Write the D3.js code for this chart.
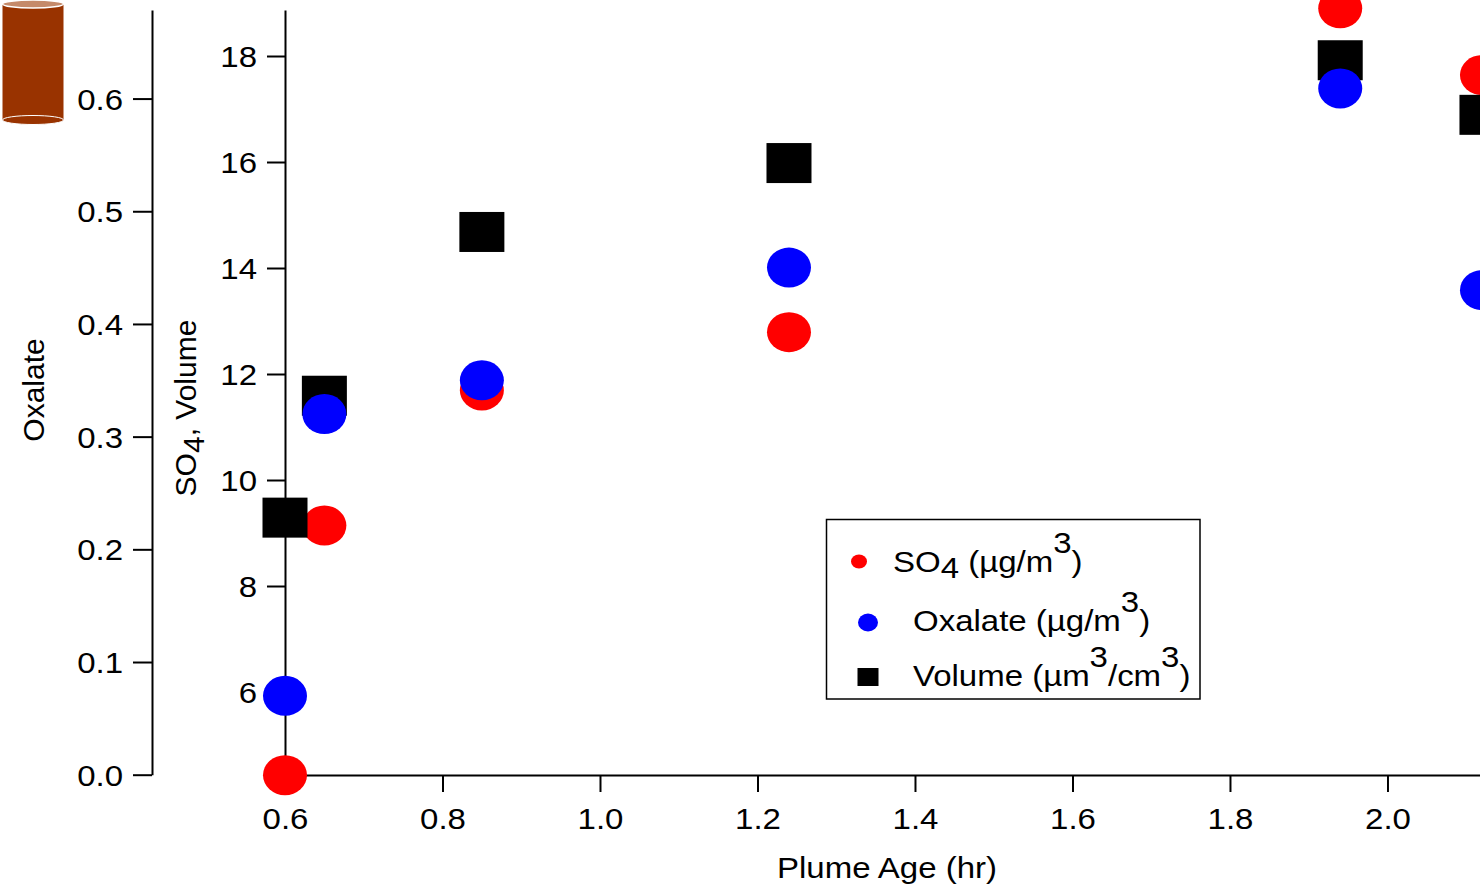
<!DOCTYPE html>
<html>
<head>
<meta charset="utf-8">
<script src="https://cdn.jsdelivr.net/npm/d3@7"></script>
<style>
  body { margin: 0; background: #fff; }
  text { font-family: "Liberation Sans", Arial, sans-serif; fill: #000; }
</style>
</head>
<body>
<div class="chart"></div>
<script>
// plume age (hr)
const plumeAge = [0.6, 0.65, 0.85, 1.24, 1.94, 2.12];
const so4 = [4.43, 9.14, 11.69, 12.79, 18.9, 17.64];
const oxalate = [0.07, 0.32, 0.35, 0.45, 0.609, 0.43];
const volume = [9.29, 11.59, 14.68, 15.98, 17.92, 16.89];

const xTicks = [0.6, 0.8, 1.0, 1.2, 1.4, 1.6, 1.8, 2.0];
const so4Ticks = [6, 8, 10, 12, 14, 16, 18];
const oxTicks = [0.0, 0.1, 0.2, 0.3, 0.4, 0.5, 0.6];

const svgWidth = 1480, svgHeight = 894;
const fontSize = 30, stretch = 1.1;

var svg = d3.select(".chart").append("svg")
    .attr("width", svgWidth).attr("height", svgHeight);

var x = d3.scaleLinear().domain([0.6, 2.1175]).range([285, 1480]);
var yOx = d3.scaleLinear().domain([0, 0.6786]).range([774.7, 10]);
var ySo4 = d3.scaleLinear().domain([4.434, 18.868]).range([775, 10]);

// horizontally widened text, like the original export
function widen(sel) {
    sel.each(function () {
        var t = d3.select(this);
        var tx = +t.attr("x") || 0;
        t.attr("x", tx / stretch).attr("transform", "scale(" + stretch + ",1)");
    });
}

function styleAxis(g) {
    g.select(".domain").attr("stroke", "#000").attr("stroke-width", 2);
    g.selectAll(".tick line").attr("stroke", "#000").attr("stroke-width", 2);
    g.selectAll(".tick text")
        .style("font-size", fontSize + "px")
        .style("font-family", '"Liberation Sans", Arial, sans-serif')
        .attr("fill", "#000");
}

// outer oxalate axis
var oxAxis = svg.append("g")
    .attr("transform", "translate(152,0)")
    .call(d3.axisLeft(yOx).tickValues(oxTicks).tickFormat(d3.format(".1f"))
        .tickSize(19).tickSizeOuter(0).tickPadding(10));
styleAxis(oxAxis);
oxAxis.selectAll(".tick text").attr("dy", "0.35em").call(widen);

// inner SO4 / volume axis
var soAxis = svg.append("g")
    .attr("transform", "translate(285,0)")
    .call(d3.axisLeft(ySo4).tickValues(so4Ticks).tickFormat(d3.format("d"))
        .tickSize(18).tickSizeOuter(0).tickPadding(10));
styleAxis(soAxis);
soAxis.selectAll(".tick text").attr("dy", "0.35em").call(widen);

// x axis
var xAxis = svg.append("g")
    .attr("transform", "translate(0,775)")
    .call(d3.axisBottom(x).tickValues(xTicks).tickFormat(d3.format(".1f"))
        .tickSize(17).tickSizeOuter(0).tickPadding(16));
styleAxis(xAxis);
xAxis.selectAll(".tick text").attr("transform", "scale(" + stretch + ",1)");

// axis titles
svg.append("text")
    .attr("transform", "translate(44,390) rotate(-90)")
    .attr("text-anchor", "middle")
    .style("font-size", fontSize + "px")
    .text("Oxalate");

var so4Title = svg.append("text")
    .attr("transform", "translate(196,408) rotate(-90)")
    .attr("text-anchor", "middle")
    .style("font-size", fontSize + "px");
so4Title.append("tspan").text("SO");
so4Title.append("tspan").attr("dy", "0.25em").text("4");
so4Title.append("tspan").attr("dy", "-0.25em").text(", Volume");

svg.append("text")
    .attr("transform", "translate(887,878) scale(" + stretch + ",1)")
    .attr("text-anchor", "middle")
    .style("font-size", fontSize + "px")
    .text("Plume Age (hr)");

// markers: sulfate, then volume, then oxalate on top
var pts = plumeAge.map(function (a, i) {
    return { age: a, so4: so4[i], ox: oxalate[i], vol: volume[i] };
});

svg.selectAll("ellipse.so4").data(pts).enter().append("ellipse")
    .attr("class", "so4")
    .attr("cx", d => x(d.age)).attr("cy", d => ySo4(d.so4))
    .attr("rx", 22).attr("ry", 20)
    .attr("fill", "#ff0000");

svg.selectAll("rect.vol").data(pts).enter().append("rect")
    .attr("class", "vol")
    .attr("x", d => x(d.age) - 22.5).attr("y", d => ySo4(d.vol) - 20)
    .attr("width", 45).attr("height", 40)
    .attr("fill", "#000");

svg.selectAll("ellipse.ox").data(pts).enter().append("ellipse")
    .attr("class", "ox")
    .attr("cx", d => x(d.age)).attr("cy", d => yOx(d.ox))
    .attr("rx", 22).attr("ry", 20)
    .attr("fill", "#0000ff");

// legend
var legend = svg.append("g");
legend.append("rect")
    .attr("x", 826.5).attr("y", 519.5).attr("width", 373.5).attr("height", 179.5)
    .attr("fill", "#fff").attr("stroke", "#000").attr("stroke-width", 1.5);

legend.append("ellipse").attr("cx", 859).attr("cy", 561.5).attr("rx", 8).attr("ry", 7).attr("fill", "#ff0000");
legend.append("ellipse").attr("cx", 868).attr("cy", 622.5).attr("rx", 10).attr("ry", 9).attr("fill", "#0000ff");
legend.append("rect").attr("x", 857.5).attr("y", 668).attr("width", 21).attr("height", 18).attr("fill", "#000");

function legendText(xPos, yPos, parts) {
    var t = legend.append("text")
        .attr("transform", "translate(" + xPos + "," + yPos + ") scale(" + stretch + ",1)")
        .style("font-size", fontSize + "px");
    var shift = 0;
    parts.forEach(function (p) {
        var want = p[1] || 0;
        var ts = t.append("tspan").text(p[0]);
        if (want !== shift) ts.attr("dy", (want - shift) + "px");
        shift = want;
    });
}
legendText(893, 572, [["SO"], ["4", 6], [" (\u00b5g/m", 0], ["3", -19], [")", 0]]);
legendText(913, 631, [["Oxalate (\u00b5g/m"], ["3", -19], [")", 0]]);
legendText(913, 686, [["Volume (\u00b5m"], ["3", -19], ["/cm", 0], ["3", -19], [")", 0]]);

// cylinder glyph in the corner
var cyl = svg.append("g");
cyl.append("rect").attr("x", 2.5).attr("y", 4).attr("width", 61).attr("height", 116)
    .attr("fill", "#993300");
cyl.append("ellipse").attr("cx", 33).attr("cy", 120).attr("rx", 30.5).attr("ry", 4.5)
    .attr("fill", "#993300").attr("stroke", "#fff").attr("stroke-width", 1);
cyl.append("ellipse").attr("cx", 33).attr("cy", 4).attr("rx", 30.5).attr("ry", 4)
    .attr("fill", "#c58a6a").attr("stroke", "#fff").attr("stroke-width", 1.5);
</script>
</body>
</html>
